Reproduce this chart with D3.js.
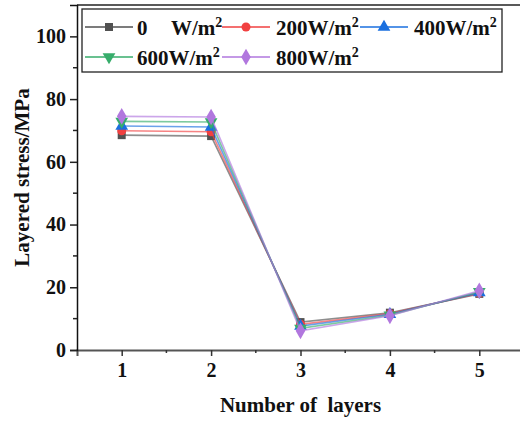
<!DOCTYPE html>
<html>
<head>
<meta charset="utf-8">
<script src="https://cdn.jsdelivr.net/npm/d3@7"></script>
<style>
  body { margin: 0; background: #fff; }
  svg text { font-family: "Liberation Serif", "Times New Roman", serif; font-weight: bold; fill: #111; }
</style>
</head>
<body>
<div id="chart"></div>
<script>
const layers = [1, 2, 3, 4, 5];
const seriesNames = ['0', '200', '400', '600', '800'];
const stress0 = [68.5, 68.2, 8.9, 11.9, 17.9];
const stress200 = [69.9, 69.6, 8.2, 11.6, 18.1];
const stress400 = [71.4, 71.1, 7.6, 11.4, 18.3];
const stress600 = [72.9, 72.7, 6.9, 11.1, 18.6];
const stress800 = [74.5, 74.3, 6.1, 10.9, 18.9];
const yTicks = [0, 20, 40, 60, 80, 100];

const colors = ['#515151', '#F14040', '#1A6FDF', '#37AD6B', '#B177DE'];
const symbols = [d3.symbolSquare, d3.symbolCircle, d3.symbolTriangle, d3.symbolTriangle, d3.symbolDiamond];
const symbolSizes = [64, 64, 70, 70, 80];
const symbolRot = [0, 0, 0, 180, 0];

const allSeries = [stress0, stress200, stress400, stress600, stress800].map((vals, i) => ({
  name: seriesNames[i],
  color: colors[i],
  points: layers.map((l, j) => ({ layer: l, value: vals[j] }))
}));

const width = 520, height = 423;
const margin = { top: 5, left: 77, bottom: 73, right: -4 };
const FONT = '"Liberation Serif", "Times New Roman", serif';

const svg = d3.select('#chart').append('svg')
  .attr('width', width)
  .attr('height', height);

const x = d3.scaleLinear().domain([0.5, 5.5]).range([margin.left, width - margin.right]);
const y = d3.scaleLinear().domain([0, 110]).range([height - margin.bottom, margin.top]);

// frame
svg.append('line')
  .attr('x1', x(0.5)).attr('x2', x(5.5))
  .attr('y1', y(110)).attr('y2', y(110))
  .attr('stroke', '#222').attr('stroke-width', 1.5);

// x axis
const xAxis = svg.append('g')
  .attr('transform', `translate(0,${y(0)})`)
  .call(d3.axisBottom(x).tickValues(layers).tickSize(6).tickPadding(7).tickFormat(d3.format('d')));
xAxis.attr('font-family', FONT).attr('font-size', 20).attr('font-weight', 'bold');
xAxis.select('.domain').attr('stroke', '#555').attr('stroke-width', 2);
xAxis.selectAll('.tick line').attr('stroke', '#333').attr('stroke-width', 1.5);
xAxis.selectAll('.tick text').attr('fill', '#000');
xAxis.selectAll('.minor')
  .data([1.5, 2.5, 3.5, 4.5])
  .enter().append('line')
  .attr('x1', d => x(d)).attr('x2', d => x(d))
  .attr('y1', 0).attr('y2', 3)
  .attr('stroke', '#333').attr('stroke-width', 1.5);

// y axis
const yAxis = svg.append('g')
  .attr('transform', `translate(${x(0.5)},0)`)
  .call(d3.axisLeft(y).tickValues(yTicks).tickSize(7).tickPadding(4));
yAxis.attr('font-family', FONT).attr('font-size', 20).attr('font-weight', 'bold');
yAxis.select('.domain').attr('stroke', '#111').attr('stroke-width', 1.5);
yAxis.selectAll('.tick line').attr('stroke', '#222').attr('stroke-width', 1.5);
yAxis.selectAll('.tick text').attr('fill', '#000');
yAxis.selectAll('.minor')
  .data([10, 30, 50, 70, 90])
  .enter().append('line')
  .attr('x1', 0).attr('x2', -4)
  .attr('y1', d => y(d)).attr('y2', d => y(d))
  .attr('stroke', '#222').attr('stroke-width', 1.5);

// titles
svg.append('text')
  .attr('x', x(3))
  .attr('y', 412)
  .attr('text-anchor', 'middle')
  .attr('font-size', 21)
  .attr('xml:space', 'preserve')
  .text('Number of  layers');

svg.append('text')
  .attr('transform', `translate(28.5,${y(55)}) rotate(-90)`)
  .attr('text-anchor', 'middle')
  .attr('font-size', 21)
  .text('Layered stress/MPa');

// series
const line = d3.line().x(d => x(d.layer)).y(d => y(d.value));

allSeries.forEach((s, i) => {
  const g = svg.append('g');
  g.append('path')
    .attr('d', line(s.points))
    .attr('fill', 'none')
    .attr('stroke', s.color)
    .attr('stroke-opacity', 0.65)
    .attr('stroke-width', 1.6);
  g.selectAll('path.pt')
    .data(s.points)
    .enter().append('path')
    .attr('class', 'pt')
    .attr('transform', d => `translate(${x(d.layer)},${y(d.value)}) rotate(${symbolRot[i]})`)
    .attr('d', d3.symbol(symbols[i], symbolSizes[i]))
    .attr('fill', s.color);
});

// legend
const legend = svg.append('g');
legend.append('rect')
  .attr('x', 82).attr('y', 9)
  .attr('width', 420).attr('height', 63)
  .attr('fill', '#fff')
  .attr('stroke', '#222').attr('stroke-width', 1.3);

const legendPos = [
  { lx: 85, tx: 137, row: 0 },
  { lx: 222, tx: 276, row: 0 },
  { lx: 360, tx: 414, row: 0 },
  { lx: 85, tx: 137, row: 1 },
  { lx: 222, tx: 276, row: 1 }
];
const rowY = [27, 57];

allSeries.forEach((s, i) => {
  const p = legendPos[i];
  const cy = rowY[p.row];
  legend.append('line')
    .attr('x1', p.lx).attr('x2', p.lx + 48)
    .attr('y1', cy).attr('y2', cy)
    .attr('stroke', s.color).attr('stroke-width', 1.4);
  legend.append('path')
    .attr('transform', `translate(${p.lx + 24},${cy}) rotate(${symbolRot[i]})`)
    .attr('d', d3.symbol(symbols[i], symbolSizes[i]))
    .attr('fill', s.color);
  const t = legend.append('text')
    .attr('x', p.tx).attr('y', cy + 8)
    .attr('font-size', 21);
  if (s.name === '0') {
    t.append('tspan').text('0');
    t.append('tspan').attr('x', p.tx + 34).text('W/m');
  } else {
    t.append('tspan').text(s.name + 'W/m');
  }
  t.append('tspan').attr('dy', -8).attr('font-size', 14).text('2');
});
</script>
</body>
</html>
